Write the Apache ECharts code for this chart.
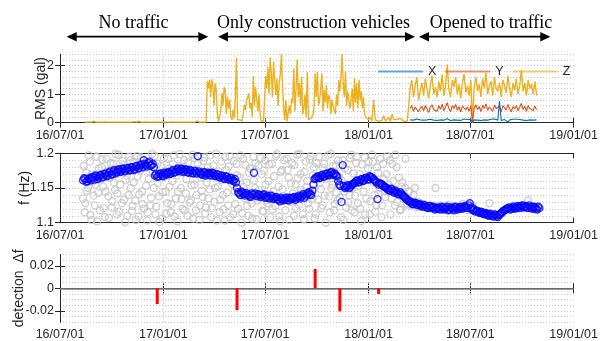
<!DOCTYPE html>
<html>
<head>
<meta charset="utf-8">
<script src="https://cdn.jsdelivr.net/npm/echarts@6/dist/echarts.min.js"></script>
<style>
  html, body { margin: 0; padding: 0; background: #fff; }
  #chart { width: 601px; height: 341px; }
</style>
</head>
<body>
<div id="chart"></div>
<script>
// x axis: 6-month ticks
const axisDates = ['2016-07-01', '2017-01-01', '2017-07-01', '2018-01-01', '2018-07-01', '2019-01-01'];
const tickLabels = ['16/07/01', '17/01/01', '17/07/01', '18/01/01', '18/07/01', '19/01/01'];

// RMS (gal), top panel
const zQuietStart = '2016-08-14'; // every 4 days
const zQuiet = [0.02, 0.02, 0.03, 0.02, 0.05, 0.02, 0.02, 0.02, 0.02, 0.03,
  0.02, 0.02, 0.02, 0.02, 0.02, 0.02, 0.02, 0.02, 0.02, 0.02,
  0.02, 0.02, 0.04, 0.02, 0.05, 0.02, 0.02, 0.03, 0.02, 0.02,
  0.02, 0.02, 0.02, 0.02, 0.02, 0.02, 0.02, 0.02, 0.02, 0.03,
  0.02, 0.02, 0.02, 0.02, 0.02, 0.02, 0.02, 0.02, 0.02, 0.02,
  0.06, 0.02, 0.02, 0.03, 0.02];
const zBuildStart = '2017-03-20'; // every 2 days
const zBuild = [1.45, 1.2, 1.5, 0.9, 1.52, 1.3, 0.6, 1.38, 1.15, 0.3,
  0.05, 0.08,
  0.4, 1.03, 0.6, 1.24, 1.15, 0.3, 0.91, 0.5, 0.8, 0.2, 0.1, 0.45, 0.15,
  0.9, 2.29, 0.1,
  0.05, 0.1, 0.04, 0.06,
  0.3, 0.62, 0.45, 0.8, 0.9, 1.03, 0.5, 0.7, 0.2, 1.64, 0.6, 1.26, 0.85, 0.4, 1.0, 0.3,
  0.05, 0.03, 0.06, 0.04,
  1.64, 1.2, 1.96, 1.0, 2.29, 1.73, 0.9, 2.14, 1.5, 0.97, 1.56, 0.6, 1.38, 1.7, 2.41, 1.26,
  0.5, 0.1, 0.8, 0.05, 0.1, 0.6,
  0.3, 0.85, 0.7, 1.9, 0.4, 1.2, 2.22, 0.9, 1.38, 0.6, 1.6, 0.3, 0.5, 1.0, 0.2, 1.79,
  0.1, 0.05, 0.15, 0.08,
  0.27, 0.5, 1.73, 0.9, 1.79, 0.6, 0.8, 1.2, 1.73, 0.4, 1.15, 0.7, 1.32, 0.5, 0.97, 0.85, 0.3, 0.8, 0.6,
  0.44, 0.3, 0.97, 0.6, 1.5, 1.1, 1.6, 2.41, 1.3, 0.9, 1.79, 0.6, 1.09, 1.03, 0.5, 0.85, 1.2, 0.4, 1.56, 0.7,
  1.38, 0.5, 1.5, 0.8, 1.1, 0.5, 0.9, 0.3, 0.2];
const zWinterStart = '2017-12-29'; // every 3 days
const zWinter = [0.15, 0.1, 0.2, 0.05, 0.8, 0.1, 0.15, 0.05, 0.12, 0.08,
  0.25, 0.06, 0.1, 0.18, 0.05, 0.3, 0.1, 0.07, 0.12, 0.05,
  0.15, 0.08, 0.04, 0.1, 0.06, 0.05];
const trafficStart = '2018-03-16'; // every 3 days
const zTraffic = [1.2, 1.5, 0.9, 1.3, 1.6, 0.8, 1.1, 1.4, 0.95, 1.55,
  1.2, 0.85, 1.3, 1.65, 1.0, 1.25, 0.9, 1.45, 1.1, 1.7,
  0.95, 1.3, 2.05, 1.15, 0.9, 1.5, 1.25, 1.6, 1.0, 1.35,
  0.85, 1.4, 1.7, 1.05, 1.3, 0.95, 1.5, 0.0, 1.25, 1.6,
  1.1, 1.35, 0.9, 1.55, 1.2, 1.75, 1.0, 1.3, 1.45, 0.95,
  1.6, 1.2, 1.1, 1.4, 0.9, 1.5, 1.3, 1.05, 1.65, 1.2,
  0.9, 1.4, 1.15, 1.55, 1.0, 1.3, 1.85, 1.1, 1.4, 0.95,
  1.5, 1.2, 1.35, 1.0, 1.45, 0.95];
const yTraffic = [0.5, 0.6, 0.4, 0.55, 0.62, 0.38, 0.5, 0.58, 0.42, 0.6,
  0.48, 0.36, 0.55, 0.63, 0.45, 0.52, 0.4, 0.6, 0.47, 0.65,
  0.42, 0.55, 0.7, 0.5, 0.38, 0.6, 0.5, 0.64, 0.44, 0.56,
  0.37, 0.58, 0.62, 0.45, 0.55, 0.4, 0.6, 0.05, 0.5, 0.63,
  0.46, 0.57, 0.39, 0.61, 0.5, 0.66, 0.43, 0.55, 0.6, 0.4,
  0.62, 0.5, 0.46, 0.58, 0.38, 0.6, 0.53, 0.44, 0.64, 0.5,
  0.38, 0.57, 0.48, 0.6, 0.42, 0.54, 0.68, 0.46, 0.58, 0.4,
  0.6, 0.5, 0.56, 0.43, 0.58, 0.45];
const xTraffic = [0.1, 0.12, 0.09, 0.11, 0.13, 0.08, 0.1, 0.12, 0.09, 0.11,
  0.1, 0.08, 0.12, 0.13, 0.09, 0.11, 0.08, 0.12, 0.1, 0.13,
  0.09, 0.11, 0.14, 0.1, 0.08, 0.12, 0.1, 0.13, 0.09, 0.11,
  0.08, 0.12, 0.13, 0.09, 0.11, 0.08, 0.12, 0.02, 0.1, 0.13,
  0.09, 0.11, 0.08, 0.12, 0.1, 0.13, 0.09, 0.11, 0.12, 0.08,
  0.13, 0.1, 0.09, 0.75, 0.08, 0.12, 0.11, 0.09, 0.02, 0.1,
  0.08, 0.12, 0.1, 0.12, 0.09, 0.11, 0.14, 0.09, 0.12, 0.08,
  0.12, 0.1, 0.11, 0.09, 0.12, 0.1];

// f (Hz), middle panel: tracked estimates (blue), every 4 days from two start days
const freqStartA = '2016-08-11';
const freqTrackedA = [
  1.161, 1.163, 1.160, 1.164, 1.166, 1.162, 1.167, 1.165, 1.169, 1.166,
  1.171, 1.168, 1.174, 1.170, 1.176, 1.173, 1.177, 1.174, 1.178, 1.175,
  1.179, 1.176, 1.180, 1.177, 1.182, 1.179, 1.184, 1.190, 1.183, 1.186,
  1.182, 1.185, 1.168, 1.166, 1.170, 1.168, 1.172, 1.169, 1.173, 1.171,
  1.176, 1.173, 1.178, 1.175, 1.177, 1.174, 1.176, 1.172, 1.175, 1.171,
  1.174, 1.196, 1.172, 1.169, 1.173, 1.170, 1.172, 1.168, 1.171, 1.167,
  1.169, 1.165, 1.167, 1.163, 1.166, 1.162, 1.164, 1.160, 1.158, 1.144,
  1.140, 1.143, 1.139, 1.141, 1.138, 1.142, 1.172, 1.139, 1.141, 1.137,
  1.140, 1.136, 1.139, 1.135, 1.138, 1.134, 1.137, 1.133, 1.136, 1.132,
  1.135, 1.133, 1.136, 1.134, 1.137, 1.135, 1.139, 1.137, 1.141, 1.139,
  1.143, 1.141, 1.146, 1.163, 1.166, 1.164, 1.168, 1.166, 1.170, 1.168,
  1.172, 1.169, 1.171, 1.167, 1.155, 1.130, 1.153, 1.151, 1.154, 1.152,
  1.156, 1.158, 1.161, 1.159, 1.163, 1.161, 1.165, 1.162, 1.166, 1.163,
  1.160, 1.134, 1.157, 1.155, 1.152, 1.150, 1.147, 1.149, 1.145, 1.146,
  1.142, 1.144, 1.140, 1.137, 1.134, 1.131, 1.129, 1.127, 1.128, 1.125,
  1.126, 1.123, 1.125, 1.122, 1.124, 1.121, 1.123, 1.120, 1.122, 1.119,
  1.122, 1.120, 1.123, 1.119, 1.121, 1.118, 1.122, 1.120, 1.123, 1.121,
  1.124, 1.121, 1.128, 1.122, 1.119, 1.117, 1.115, 1.116, 1.113, 1.114,
  1.111, 1.113, 1.110, 1.112, 1.109, 1.111, 1.114, 1.117, 1.119, 1.121,
  1.119, 1.122, 1.120, 1.123, 1.121, 1.124, 1.122, 1.124, 1.121, 1.123,
  1.120, 1.122, 1.119, 1.121];
const freqStartB = '2016-08-13';
const freqTrackedB = [
  1.164, 1.159, 1.163, 1.161, 1.165, 1.168, 1.163, 1.168, 1.165, 1.170,
  1.167, 1.172, 1.169, 1.174, 1.171, 1.176, 1.173, 1.177, 1.174, 1.178,
  1.175, 1.180, 1.176, 1.181, 1.178, 1.183, 1.180, 1.185, 1.181, 1.188,
  1.183, 1.180, 1.170, 1.167, 1.171, 1.167, 1.170, 1.172, 1.170, 1.174,
  1.172, 1.176, 1.174, 1.178, 1.173, 1.177, 1.173, 1.176, 1.172, 1.175,
  1.171, 1.174, 1.170, 1.172, 1.168, 1.171, 1.169, 1.172, 1.168, 1.170,
  1.166, 1.168, 1.164, 1.167, 1.163, 1.165, 1.161, 1.163, 1.150, 1.142,
  1.145, 1.141, 1.143, 1.140, 1.137, 1.140, 1.142, 1.138, 1.140, 1.138,
  1.141, 1.137, 1.136, 1.139, 1.135, 1.136, 1.134, 1.131, 1.134, 1.133,
  1.136, 1.132, 1.135, 1.136, 1.133, 1.137, 1.135, 1.139, 1.136, 1.141,
  1.144, 1.140, 1.155, 1.164, 1.167, 1.165, 1.169, 1.167, 1.171, 1.169,
  1.173, 1.170, 1.168, 1.160, 1.153, 1.183, 1.150, 1.153, 1.150, 1.154,
  1.157, 1.160, 1.158, 1.162, 1.160, 1.164, 1.163, 1.167, 1.165, 1.162,
  1.158, 1.155, 1.156, 1.153, 1.151, 1.148, 1.146, 1.148, 1.143, 1.144,
  1.141, 1.142, 1.138, 1.135, 1.132, 1.130, 1.127, 1.129, 1.126, 1.127,
  1.124, 1.126, 1.123, 1.121, 1.124, 1.122, 1.119, 1.121, 1.120, 1.123,
  1.119, 1.121, 1.118, 1.122, 1.120, 1.123, 1.119, 1.122, 1.120, 1.123,
  1.122, 1.125, 1.120, 1.118, 1.116, 1.117, 1.114, 1.115, 1.112, 1.113,
  1.110, 1.112, 1.109, 1.111, 1.108, 1.112, 1.115, 1.118, 1.120, 1.122,
  1.120, 1.123, 1.121, 1.124, 1.122, 1.125, 1.123, 1.122, 1.125, 1.121,
  1.123, 1.120, 1.123];
// raw estimates (grey), every 3 days, null = no estimate
const rawStartA = '2016-08-11';
const freqRawA = [
  1.135, 1.115, 1.172, 1.150, 1.188, 1.104, 1.160, 1.125, 1.195, 1.143,
  1.118, 1.180, 1.152, 1.108, 1.192, 1.138, 1.165, 1.122, 1.185, 1.147,
  1.112, 1.198, 1.155, 1.128, 1.183, 1.101, 1.168, 1.140, 1.190, 1.117,
  1.158, 1.132, 1.196, 1.109, 1.176, 1.145, 1.120, 1.188, 1.103, 1.163,
  1.125, 1.199, 1.150, 1.112, 1.185, 1.138, 1.170, 1.106, 1.193, 1.145,
  1.128, 1.178, 1.115, 1.160, 1.197, 1.135, 1.102, 1.182, 1.150, 1.120,
  1.190, 1.142, 1.110, 1.175, 1.132, 1.198, 1.155, 1.118, 1.186, 1.104,
  1.165, 1.137, 1.194, 1.122, 1.180, 1.148, 1.108, 1.170, 1.130, 1.199,
  1.152, 1.115, 1.188, 1.140, 1.103, 1.176, 1.125, 1.196, 1.160, 1.112,
  1.145, 1.185, 1.120, 1.165, 1.100, 1.192, 1.135, 1.158, 1.110, 1.178,
  1.128, 1.195, 1.150, 1.105, 1.182, 1.140, 1.170, 1.116, 1.190, 1.132,
  1.160, 1.108, 1.185, 1.145, 1.124, 1.199, 1.152, 1.102, 1.176, 1.138,
  1.118, 1.192, 1.165, 1.130, 1.186, 1.110, 1.155, 1.198, 1.126, 1.170,
  1.142, 1.105, 1.188, 1.160, 1.120, 1.196, 1.135, 1.180, 1.112, 1.165,
  1.195, 1.148, 1.125, 1.185, 1.100, 1.172, 1.138, 1.199, 1.155, 1.118,
  1.182, 1.132, 1.165, 1.108, 1.190, 1.145, 1.122, 1.176, 1.140, 1.198,
  1.150, 1.115, 1.186, 1.128, 1.170, 1.102, 1.160, 1.194, 1.135, 1.178,
  1.112, 1.165, 1.188, 1.140, 1.125, 1.172, 1.150, 1.108, 1.185, 1.145,
  1.170, 1.148, 1.190, 1.135, 1.160, 1.125, 1.180, 1.140, 1.118, 1.152,
  1.135, 1.150, 1.128, 1.145, 1.132, 1.125, 1.140, 1.150, 1.122, 1.130,
  1.128, null, 1.125, null, null, 1.122, null, null, null, 1.150,
  1.121, null, 1.125, null, null, 1.123, null, 1.126, null, null,
  1.124, null, null, 1.122, null, 1.127, null, null, 1.118, null,
  null, 1.125, null, null, 1.117, null, null, 1.114, null, 1.113,
  null, 1.128, null, null, 1.112, null, null, null, 1.115, null,
  null, null, 1.120, null, null, 1.125, null, null, 1.122, null,
  null, 1.126, null, null, 1.132, null, null, 1.124, null, null];
const rawStartB = '2016-08-12';
const freqRawB = [
  1.182, 1.128, 1.146, 1.197, 1.111, 1.170, 1.139, 1.155, 1.102, 1.178,
  1.163, 1.191, 1.121, 1.145, 1.174, 1.107, 1.186, 1.131, 1.158, 1.199,
  1.142, 1.116, 1.176, 1.189, 1.133, 1.162, 1.110, 1.195, 1.150, 1.124,
  1.187, 1.104, 1.167, 1.141, 1.194, 1.127, 1.179, 1.153, 1.115, 1.184,
  1.136, 1.171, 1.196, 1.123, 1.157, 1.101, 1.181, 1.144, 1.166, 1.113,
  1.192, 1.152, 1.127, 1.184, 1.109, 1.168, 1.145, 1.199, 1.134, 1.176,
  1.118, 1.163, 1.187, 1.129, 1.154, 1.106, 1.193, 1.140, 1.172, 1.125,
  1.146, 1.189, 1.113, 1.158, 1.135, 1.197, 1.121, 1.182, 1.150, 1.103,
  1.174, 1.133, 1.162, 1.119, 1.195, 1.143, 1.181, 1.108, 1.156, 1.189,
  1.127, 1.168, 1.143, 1.197, 1.114, 1.152, 1.183, 1.124, 1.172, 1.139,
  1.106, 1.161, 1.186, 1.132, 1.147, 1.193, 1.117, 1.175, 1.155, 1.128,
  1.184, 1.141, 1.119, 1.167, 1.196, 1.134, 1.109, 1.173, 1.148, 1.190,
  1.137, 1.176, 1.104, 1.157, 1.142, 1.183, 1.121, 1.164, 1.199, 1.147,
  1.112, 1.173, 1.151, 1.128, 1.191, 1.143, 1.168, 1.106, 1.186, 1.133,
  1.158, 1.121, 1.179, 1.139, 1.163, 1.197, 1.115, 1.150, 1.182, 1.127,
  1.144, 1.190, 1.136, 1.161, 1.104, 1.178, 1.155, 1.129, 1.193, 1.118,
  1.171, 1.139, 1.195, 1.153, 1.120, 1.184, 1.145, 1.112, 1.166, 1.188,
  1.131, 1.198, 1.158, 1.116, 1.180, 1.142, 1.192, 1.125, 1.163, 1.137,
  1.196, 1.155, 1.112, 1.185, 1.148, 1.198, 1.130, 1.165, 1.119, 1.158,
  1.140, 1.192, 1.126, 1.145];

// detection Δf, bottom panel
const jumpDates = ['2016-12-21', '2017-05-12', '2017-09-28', '2017-11-11', '2018-01-19'];
const jumpValues = [-0.014, -0.0195, 0.0172, -0.0205, -0.005];

const t0 = Date.parse(axisDates[0]);
function dayOf(s) { return Math.round((Date.parse(s) - t0) / 86400000); }
function seg(start, step, values) {
  const d0 = dayOf(start);
  return values.map((v, i) => [d0 + i * step, v]).filter((p) => p[1] !== null);
}
const tickDays = axisDates.map(dayOf);

const ink = '#262626';
const sans = 'Liberation Sans, Arial, sans-serif';
const gridLine = { type: [1, 2], color: '#c8c8c8', width: 1 };

const grids = [
  { left: 60, right: 21, top: 54.3, height: 68.4 },
  { left: 60, right: 21, top: 153.3, height: 69.4 },
  { left: 60, right: 21, top: 254.7, height: 69.3 }
];

const xAxes = [];
const yAxes = [];
const yDefs = [
  { min: 0, max: 2.4, ticks: [0, 1, 2], minor: 0.2, name: 'RMS (gal)', gap: 12 },
  { min: 1.1, max: 1.2, ticks: [1.1, 1.15, 1.2], minor: 0.01, name: 'f (Hz)', gap: 28 },
  { min: -0.03, max: 0.03, ticks: [-0.02, 0, 0.02], minor: 0.005, name: 'detection  Δf', gap: 34 }
];
grids.forEach((g, i) => {
  xAxes.push({
    type: 'value', gridIndex: i, min: 0, max: tickDays[tickDays.length - 1], position: 'bottom',
    axisLine: { lineStyle: { color: ink, width: 1 } },
    axisTick: { inside: true, length: 5, customValues: tickDays, lineStyle: { color: ink } },
    axisLabel: {
      customValues: tickDays, color: ink, fontSize: 12.5, fontFamily: sans, margin: 6,
      formatter: (v) => tickLabels[tickDays.indexOf(v)]
    },
    splitLine: { show: false }
  });
  xAxes.push({
    type: 'value', gridIndex: i, min: 0, max: tickDays[tickDays.length - 1], position: 'top',
    axisLine: { lineStyle: { color: ink, width: 1 } },
    axisTick: { inside: true, length: 5, customValues: tickDays, lineStyle: { color: ink } },
    axisLabel: { show: false },
    splitLine: { show: false }
  });
  const d = yDefs[i];
  yAxes.push({
    type: 'value', gridIndex: i, min: d.min, max: d.max, position: 'left',
    name: d.name, nameLocation: 'middle', nameGap: d.gap, nameMoveOverlap: false,
    nameTextStyle: { color: ink, fontSize: 14, fontFamily: sans },
    axisLine: { show: true, lineStyle: { color: ink, width: 1 } },
    axisTick: { show: true, inside: true, length: 5, customValues: d.ticks, lineStyle: { color: ink } },
    axisLabel: { customValues: d.ticks, color: ink, fontSize: 12.5, fontFamily: sans, margin: 6 },
    splitLine: { show: false }
  });
  yAxes.push({
    type: 'value', gridIndex: i, min: d.min, max: d.max, position: 'right',
    axisLine: { show: true, lineStyle: { color: ink, width: 1 } },
    axisTick: { show: true, inside: true, length: 5, customValues: d.ticks, lineStyle: { color: ink } },
    axisLabel: { show: false },
    splitLine: { show: false }
  });
  // dotted horizontal grid (major + minor)
  yAxes.push({
    type: 'value', gridIndex: i, min: d.min, max: d.max, interval: d.minor, position: 'left',
    axisLine: { show: false }, axisTick: { show: false }, axisLabel: { show: false },
    splitLine: { show: true, lineStyle: gridLine }
  });
});

// dotted vertical grid at the date ticks
const vGrid = tickDays.slice(1, -1).map((d) => ({ xAxis: d, lineStyle: gridLine }));
function vGridMark(extra) {
  return { silent: true, z: 1, symbol: 'none', label: { show: false }, data: vGrid.concat(extra || []) };
}

const rmsZ = seg(zQuietStart, 4, zQuiet)
  .concat(seg(zBuildStart, 2, zBuild))
  .concat(seg(zWinterStart, 3, zWinter))
  .concat(seg(trafficStart, 3, zTraffic));
const rawPoints = seg(rawStartA, 3, freqRawA).concat(seg(rawStartB, 3, freqRawB));
const trackedPoints = seg(freqStartA, 4, freqTrackedA).concat(seg(freqStartB, 4, freqTrackedB));

function arrow(x1, x2, y) {
  const h = 10, w = 4.7;
  return [
    { type: 'line', shape: { x1: x1 + h - 1, y1: y, x2: x2 - h + 1, y2: y }, style: { stroke: '#000', lineWidth: 1.7 } },
    { type: 'polygon', shape: { points: [[x1, y], [x1 + h, y - w], [x1 + h, y + w]] }, style: { fill: '#000' } },
    { type: 'polygon', shape: { points: [[x2, y], [x2 - h, y - w], [x2 - h, y + w]] }, style: { fill: '#000' } }
  ];
}
function label(text, x) {
  return { type: 'text', style: { text: text, x: x, y: 23, textAlign: 'center', textVerticalAlign: 'middle',
    font: '18px "Liberation Serif", "Times New Roman", serif', fill: '#000' } };
}

const chart = echarts.init(document.getElementById('chart'));
chart.setOption({
  animation: false,
  backgroundColor: '#fff',
  grid: grids,
  xAxis: xAxes,
  yAxis: yAxes,
  legend: {
    data: ['X', 'Y', 'Z'],
    left: 373, top: 60,
    icon: 'rect', itemWidth: 45, itemHeight: 2, itemGap: 9,
    itemStyle: { opacity: 0.6 },
    textStyle: { color: ink, fontSize: 12.5, fontFamily: sans }
  },
  graphic: [].concat(
    arrow(66.7, 208.3, 36.7), arrow(218, 415, 36.7), arrow(419, 550.3, 36.7),
    [label('No traffic', 133.5), label('Only construction vehicles', 313.5), label('Opened to traffic', 491)]
  ),
  series: [
    {
      name: 'Z', type: 'line', xAxisIndex: 0, yAxisIndex: 0, data: rmsZ,
      symbol: 'none', lineStyle: { width: 1.4, color: '#EDB120' }, itemStyle: { color: '#EDB120' },
      markLine: vGridMark()
    },
    {
      name: 'Y', type: 'line', xAxisIndex: 0, yAxisIndex: 0, data: seg(trafficStart, 3, yTraffic),
      symbol: 'none', lineStyle: { width: 1.1, color: '#D95319' }, itemStyle: { color: '#D95319' }
    },
    {
      name: 'X', type: 'line', xAxisIndex: 0, yAxisIndex: 0, data: seg(trafficStart, 3, xTraffic),
      symbol: 'none', lineStyle: { width: 1.1, color: '#0072BD' }, itemStyle: { color: '#0072BD' }
    },
    {
      type: 'scatter', xAxisIndex: 2, yAxisIndex: 3, data: rawPoints,
      symbol: 'circle', symbolSize: 7,
      itemStyle: { color: 'rgba(0,0,0,0)', borderColor: '#c4c4c4', borderWidth: 1.4 },
      markLine: vGridMark()
    },
    {
      type: 'scatter', xAxisIndex: 2, yAxisIndex: 3, data: trackedPoints,
      symbol: 'circle', symbolSize: 7,
      itemStyle: { color: 'rgba(0,0,0,0)', borderColor: '#0000ff', borderWidth: 1.4 }
    },
    {
      type: 'bar', xAxisIndex: 4, yAxisIndex: 6, barWidth: 3,
      data: jumpDates.map((d, i) => [dayOf(d), jumpValues[i]]),
      itemStyle: { color: '#ff0000' },
      markLine: vGridMark([{ yAxis: 0, lineStyle: { color: '#7f7f7f', type: 'solid', width: 1.5 } }])
    }
  ]
});
</script>
</body>
</html>
